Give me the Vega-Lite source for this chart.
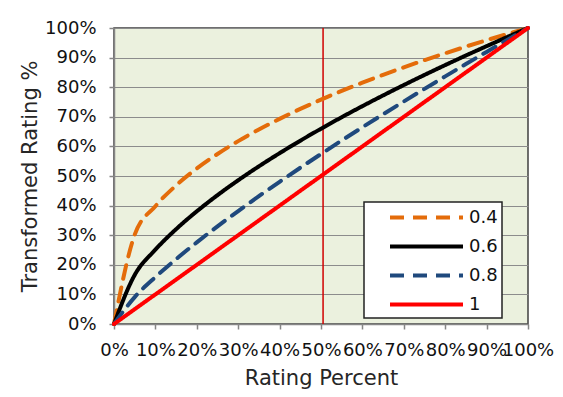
{
  "$schema": "https://vega.github.io/schema/vega-lite/v6.json",
  "width": 414,
  "height": 296,
  "autosize": {"type": "none"},
  "padding": {"left": 114, "top": 28, "right": 35, "bottom": 73},
  "background": "white",
  "config": {
    "font": "DejaVu Sans",
    "view": {"fill": "#EBF1DE", "stroke": "#404040", "strokeWidth": 1.5},
    "axis": {
      "labelFont": "DejaVu Sans",
      "titleFont": "DejaVu Sans",
      "labelColor": "#111111",
      "titleColor": "#262626",
      "labelFontSize": 18,
      "titleFontSize": 21,
      "titleFontWeight": "normal",
      "tickColor": "#868686",
      "domainColor": "#868686",
      "tickSize": 5,
      "tickWidth": 1.5,
      "domainWidth": 1.5
    }
  },
  "datasets": {
    "curves": [
      {"x": 0, "y": 0, "p": "0.4"},
      {"x": 0.05, "y": 0.3017, "p": "0.4"},
      {"x": 0.1, "y": 0.3981, "p": "0.4"},
      {"x": 0.15, "y": 0.4682, "p": "0.4"},
      {"x": 0.2, "y": 0.5253, "p": "0.4"},
      {"x": 0.25, "y": 0.5743, "p": "0.4"},
      {"x": 0.3, "y": 0.6178, "p": "0.4"},
      {"x": 0.35, "y": 0.6571, "p": "0.4"},
      {"x": 0.4, "y": 0.6931, "p": "0.4"},
      {"x": 0.45, "y": 0.7266, "p": "0.4"},
      {"x": 0.5, "y": 0.7579, "p": "0.4"},
      {"x": 0.55, "y": 0.7874, "p": "0.4"},
      {"x": 0.6, "y": 0.8152, "p": "0.4"},
      {"x": 0.65, "y": 0.8417, "p": "0.4"},
      {"x": 0.7, "y": 0.867, "p": "0.4"},
      {"x": 0.75, "y": 0.8913, "p": "0.4"},
      {"x": 0.8, "y": 0.9146, "p": "0.4"},
      {"x": 0.85, "y": 0.9371, "p": "0.4"},
      {"x": 0.9, "y": 0.9587, "p": "0.4"},
      {"x": 0.95, "y": 0.9797, "p": "0.4"},
      {"x": 1, "y": 1, "p": "0.4"},
      {"x": 0, "y": 0, "p": "0.6"},
      {"x": 0.05, "y": 0.1657, "p": "0.6"},
      {"x": 0.1, "y": 0.2512, "p": "0.6"},
      {"x": 0.15, "y": 0.3204, "p": "0.6"},
      {"x": 0.2, "y": 0.3807, "p": "0.6"},
      {"x": 0.25, "y": 0.4353, "p": "0.6"},
      {"x": 0.3, "y": 0.4856, "p": "0.6"},
      {"x": 0.35, "y": 0.5327, "p": "0.6"},
      {"x": 0.4, "y": 0.5771, "p": "0.6"},
      {"x": 0.45, "y": 0.6193, "p": "0.6"},
      {"x": 0.5, "y": 0.6597, "p": "0.6"},
      {"x": 0.55, "y": 0.6986, "p": "0.6"},
      {"x": 0.6, "y": 0.736, "p": "0.6"},
      {"x": 0.65, "y": 0.7722, "p": "0.6"},
      {"x": 0.7, "y": 0.8073, "p": "0.6"},
      {"x": 0.75, "y": 0.8415, "p": "0.6"},
      {"x": 0.8, "y": 0.8747, "p": "0.6"},
      {"x": 0.85, "y": 0.9071, "p": "0.6"},
      {"x": 0.9, "y": 0.9387, "p": "0.6"},
      {"x": 0.95, "y": 0.9697, "p": "0.6"},
      {"x": 1, "y": 1, "p": "0.6"},
      {"x": 0, "y": 0, "p": "0.8"},
      {"x": 0.05, "y": 0.091, "p": "0.8"},
      {"x": 0.1, "y": 0.1585, "p": "0.8"},
      {"x": 0.15, "y": 0.2192, "p": "0.8"},
      {"x": 0.2, "y": 0.2759, "p": "0.8"},
      {"x": 0.25, "y": 0.3299, "p": "0.8"},
      {"x": 0.3, "y": 0.3817, "p": "0.8"},
      {"x": 0.35, "y": 0.4318, "p": "0.8"},
      {"x": 0.4, "y": 0.4805, "p": "0.8"},
      {"x": 0.45, "y": 0.5279, "p": "0.8"},
      {"x": 0.5, "y": 0.5743, "p": "0.8"},
      {"x": 0.55, "y": 0.6199, "p": "0.8"},
      {"x": 0.6, "y": 0.6646, "p": "0.8"},
      {"x": 0.65, "y": 0.7085, "p": "0.8"},
      {"x": 0.7, "y": 0.7517, "p": "0.8"},
      {"x": 0.75, "y": 0.7944, "p": "0.8"},
      {"x": 0.8, "y": 0.8365, "p": "0.8"},
      {"x": 0.85, "y": 0.8781, "p": "0.8"},
      {"x": 0.9, "y": 0.9192, "p": "0.8"},
      {"x": 0.95, "y": 0.9598, "p": "0.8"},
      {"x": 1, "y": 1, "p": "0.8"},
      {"x": 0, "y": 0, "p": "1"},
      {"x": 0.5, "y": 0.5, "p": "1"},
      {"x": 1, "y": 1, "p": "1"}
    ],
    "marker": [{"x": 0.505}]
  },
  "layer": [
    {
      "data": {"name": "marker"},
      "mark": {"type": "rule", "color": "#D00000", "strokeWidth": 1.5},
      "encoding": {
        "x": {"field": "x", "type": "quantitative"}
      }
    },
    {
      "data": {"name": "curves"},
      "mark": {"type": "line", "interpolate": "monotone", "strokeWidth": 4, "strokeCap": "round"},
      "encoding": {
        "x": {
          "field": "x", "type": "quantitative",
          "scale": {"domain": [0, 1]},
          "axis": {
            "title": "Rating Percent",
            "format": "~%",
            "values": [0, 0.1, 0.2, 0.3, 0.4, 0.5, 0.6, 0.7, 0.8, 0.9, 1],
            "grid": false,
            "labelOverlap": false,
            "labelFlush": false,
            "labelBound": false,
            "labelPadding": 12,
            "titlePadding": 8
          }
        },
        "y": {
          "field": "y", "type": "quantitative",
          "scale": {"domain": [0, 1]},
          "axis": {
            "title": "Transformed Rating %",
            "format": "~%",
            "values": [0, 0.1, 0.2, 0.3, 0.4, 0.5, 0.6, 0.7, 0.8, 0.9, 1],
            "grid": true,
            "gridColor": "#8C8C8C",
            "gridWidth": 1.2,
            "labelOverlap": false,
            "labelFlush": false,
            "labelPadding": 13,
            "titlePadding": 4
          }
        },
        "color": {
          "field": "p", "type": "nominal",
          "scale": {"domain": ["0.4", "0.6", "0.8", "1"], "range": ["#E46C0A", "#000000", "#1F497D", "#FF0000"]},
          "legend": {
            "title": null,
            "orient": "none",
            "legendX": 250,
            "legendY": 174,
            "fillColor": "white",
            "strokeColor": "#222222",
            "padding": 4,
            "symbolType": "M-4,0H4",
            "symbolSize": 333,
            "symbolStrokeWidth": 4,
            "symbolOffset": 47,
            "labelFont": "DejaVu Sans",
            "labelFontSize": 18,
            "labelColor": "#111111",
            "labelOffset": 31,
            "rowPadding": 8,
            "labelExpr": "datum.label + '       '",
            "encode": {"legend": {"update": {"strokeWidth": {"value": 1.5}}}}
          }
        },
        "strokeDash": {
          "field": "p", "type": "nominal",
          "scale": {"domain": ["0.4", "0.6", "0.8", "1"], "range": [[14, 9], [1, 0], [14, 9], [1, 0]]},
          "legend": null
        }
      }
    }
  ]
}
